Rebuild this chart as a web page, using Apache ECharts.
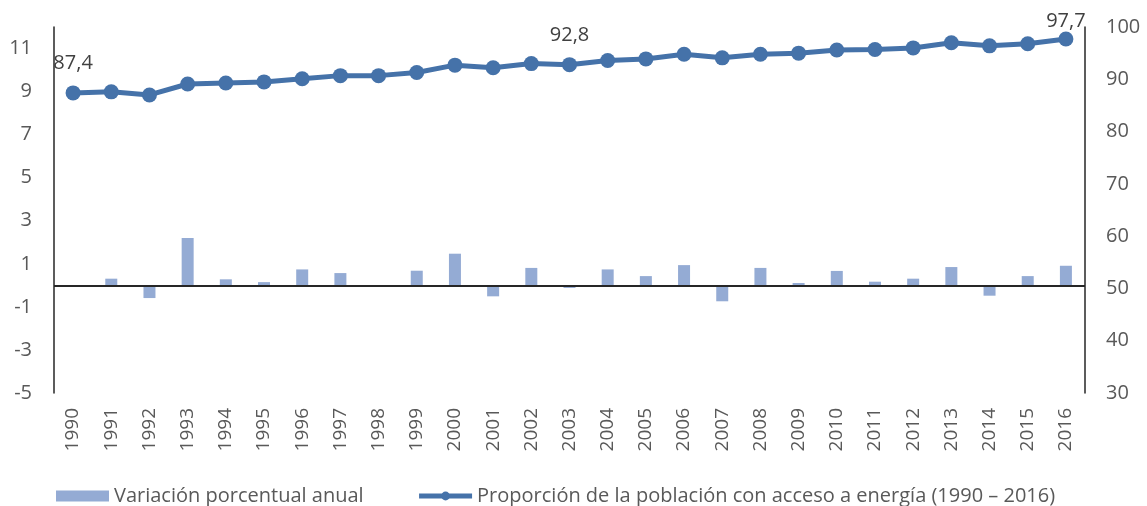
<!DOCTYPE html>
<html>
<head>
<meta charset="utf-8">
<script src="https://cdn.jsdelivr.net/npm/echarts@6/dist/echarts.min.js"></script>
<style>
  html, body { margin: 0; padding: 0; background: #fff; }
  #chart { width: 1147px; height: 506px; }
</style>
</head>
<body>
<div id="chart"></div>
<script>
const years = ["1990", "1991", "1992", "1993", "1994", "1995", "1996", "1997", "1998", "1999",
  "2000", "2001", "2002", "2003", "2004", "2005", "2006", "2007", "2008", "2009",
  "2010", "2011", "2012", "2013", "2014", "2015", "2016"];

// variación porcentual anual (eje izquierdo)
const variacion = [0, 0.31, -0.59, 2.2, 0.28, 0.15, 0.74, 0.57, 0, 0.68,
  1.47, -0.51, 0.81, -0.12, 0.74, 0.43, 0.94, -0.74, 0.81, 0.11,
  0.67, 0.17, 0.31, 0.85, -0.48, 0.43, 0.91];

// proporción de la población con acceso a energía (eje derecho)
const proporcion = [87.4, 87.6, 87.0, 89.1, 89.3, 89.5, 90.1, 90.7, 90.7, 91.3,
  92.7, 92.2, 93.0, 92.8, 93.6, 93.9, 94.8, 94.1, 94.8, 95.0,
  95.6, 95.7, 96.0, 97.0, 96.4, 96.8, 97.7];

const leftTicks = [-5, -3, -1, 1, 3, 5, 7, 9, 11];
const labeledYears = ["1990", "2003", "2016"];

const font = "'Open Sans', 'Noto Sans', sans-serif";
const fmt = (v) => v.toFixed(1).replace(".", ",");

const chart = echarts.init(document.getElementById("chart"));

const lineData = proporcion.map((v, i) => {
  if (!labeledYears.includes(years[i])) return v;
  return {
    value: v,
    label: {
      show: true,
      position: "top",
      distance: years[i] === "2016" ? 0 : 12,
      formatter: (p) => fmt(p.value),
    },
  };
});

chart.setOption({
  animation: false,
  textStyle: { fontFamily: font },
  grid: { left: 54, right: 62, top: 27, bottom: 113 },
  legend: {
    left: 51,
    top: 481,
    itemWidth: 53,
    itemHeight: 11,
    itemGap: 53,
    textStyle: { fontFamily: font, fontSize: 20, color: "#595959" },
    data: [
      { name: "Variación porcentual anual", icon: "rect" },
      {
        name: "Proporción de la población con acceso a energía (1990 – 2016)",
        lineStyle: { width: 5 },
      },
    ],
  },
  xAxis: {
    type: "category",
    data: years,
    axisLine: { show: false },
    axisTick: { show: false },
    axisLabel: {
      rotate: 90,
      margin: 15,
      fontSize: 19,
      color: "#595959",
      fontFamily: font,
      interval: 0,
    },
  },
  yAxis: [
    {
      type: "value",
      min: -5,
      max: 12,
      interval: 1,
      splitLine: { show: false },
      axisTick: { show: false },
      axisLine: { show: true, lineStyle: { color: "#262626", width: 1.5 } },
      axisLabel: {
        margin: 22,
        fontSize: 20,
        color: "#595959",
        fontFamily: font,
        formatter: (v) => (leftTicks.includes(v) ? String(v) : ""),
      },
    },
    {
      type: "value",
      min: 30,
      max: 100,
      interval: 10,
      splitLine: { show: false },
      axisTick: { show: false },
      axisLine: { show: true, lineStyle: { color: "#262626", width: 1.5 } },
      axisLabel: {
        margin: 21,
        fontSize: 20,
        color: "#595959",
        fontFamily: font,
      },
    },
  ],
  series: [
    {
      name: "Variación porcentual anual",
      type: "bar",
      yAxisIndex: 0,
      data: variacion,
      barWidth: 12,
      itemStyle: { color: "#94abd4" },
      markLine: {
        silent: true,
        symbol: "none",
        label: { show: false },
        lineStyle: { color: "#262626", width: 2, type: "solid" },
        data: [{ yAxis: 0 }],
      },
    },
    {
      name: "Proporción de la población con acceso a energía (1990 – 2016)",
      type: "line",
      yAxisIndex: 1,
      data: lineData,
      symbol: "circle",
      symbolSize: 15,
      lineStyle: { color: "#4572a9", width: 5 },
      itemStyle: { color: "#4572a9" },
      label: { fontSize: 20, color: "#404040", fontFamily: font },
    },
  ],
});
</script>
</body>
</html>
